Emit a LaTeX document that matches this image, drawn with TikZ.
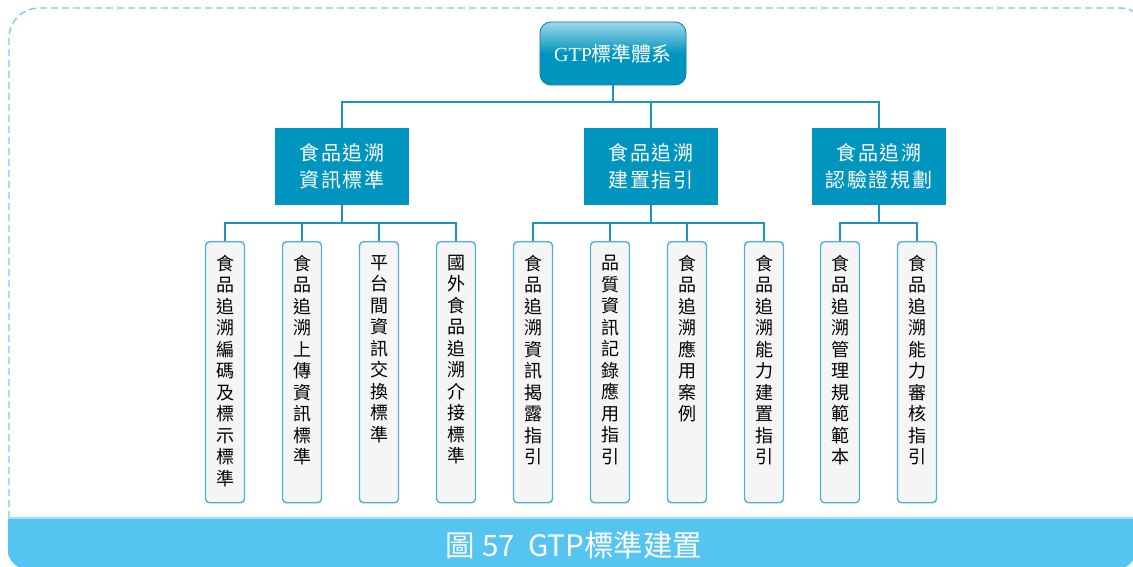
\documentclass[tikz,border=0pt]{standalone}
\usepackage{fontspec}
\setmainfont{Noto Sans CJK TC}
\newfontfamily\latserif{Liberation Serif}
\newfontfamily\boxfont[LetterSpace=8]{Noto Sans CJK TC}
\usetikzlibrary{positioning, calc}
\definecolor{frameBlue}{RGB}{125, 201, 234}
\definecolor{bandBlue}{RGB}{85, 196, 240}
\definecolor{boxBlue}{RGB}{0, 149, 191}
\definecolor{boxHi}{RGB}{160, 216, 234}
\definecolor{linkBlue}{RGB}{24, 150, 192}
\definecolor{leafLine}{RGB}{80, 175, 215}
\definecolor{leafFill}{RGB}{245, 245, 245}

\tikzset{
  rootbox/.style={rounded corners=11pt, top color=boxHi, bottom color=boxBlue,
    middle color=boxBlue, draw=boxBlue!85!black, line width=0.8pt,
    minimum width=146pt, minimum height=63pt, inner sep=0pt, text=white,
    font=\fontsize{20pt}{24pt}\selectfont},
  groupbox/.style={fill=boxBlue, minimum width=134pt, minimum height=77pt,
    inner sep=0pt, text=white, align=center,
    font=\boxfont\fontsize{20pt}{27pt}\selectfont},
  leafbox/.style={rounded corners=4pt, fill=leafFill, draw=leafLine, line width=1.4pt,
    minimum width=39pt, minimum height=261pt, inner sep=0pt, anchor=north,
    label={[leaftext]north:#1}},
  leaftext/.style={anchor=north, yshift=-14pt, align=center, inner sep=0pt,
    font=\fontsize{18pt}{21.5pt}\selectfont},
  link/.style={linkBlue, line width=2.8pt},
}

\begin{document}
\begin{tikzpicture}[x=1pt, y=-1pt]
        \useasboundingbox (0,0) rectangle (1133,567);

        % frame and caption band
        \begin{scope}
          \clip (0,0) rectangle (1133,567);
          \draw[frameBlue, line width=1.4pt, dash pattern=on 7pt off 4pt, rounded corners=30pt]
            (9,518) -- (9,8) -- (1150,8) -- (1150,518);
          \fill[bandBlue] (8,518) -- (1136,518) -- (1136,540) [rounded corners=19pt]
            -- (1136,569) -- (8,569) -- (8,540) [sharp corners] -- cycle;
          \draw[bandBlue!55!white, line width=1.5pt] (8,518) -- (1136,518);
        \end{scope}
        \node[text=white, font=\fontsize{29.5pt}{32pt}\selectfont] (caption) at (574,545)
          {圖 57\ \ GTP標準建置};

        % root
        \node[rootbox] (root) at (613,53.5) {{\latserif GTP}標準體系};

        % level 2
        \node[groupbox] (info)  at (342,166.5) {食品追溯\\資訊標準};
        \node[groupbox] (build) at (651,166.5) {食品追溯\\建置指引};
        \node[groupbox] (cert)  at (879,166.5) {食品追溯\\認驗證規劃};

        \coordinate (bus) at (613,102);
        \draw[link] (root.south) -- (bus);
        \draw[link] (bus) -| (info.north);
        \draw[link] (bus) -| (build.north);
        \draw[link] (bus) -| (cert.north);

        % leaves
        \node[leafbox={食\\品\\追\\溯\\編\\碼\\及\\標\\示\\標\\準}] (a1) at (225,241) {};
        \node[leafbox={食\\品\\追\\溯\\上\\傳\\資\\訊\\標\\準}] (a2) at (302,241) {};
        \node[leafbox={平\\台\\間\\資\\訊\\交\\換\\標\\準}] (a3) at (379,241) {};
        \node[leafbox={國\\外\\食\\品\\追\\溯\\介\\接\\標\\準}] (a4) at (456,241) {};
        \node[leafbox={食\\品\\追\\溯\\資\\訊\\揭\\露\\指\\引}] (b1) at (533,241) {};
        \node[leafbox={品\\質\\資\\訊\\記\\錄\\應\\用\\指\\引}] (b2) at (610,241) {};
        \node[leafbox={食\\品\\追\\溯\\應\\用\\案\\例}] (b3) at (687,241) {};
        \node[leafbox={食\\品\\追\\溯\\能\\力\\建\\置\\指\\引}] (b4) at (764,241) {};
        \node[leafbox={食\\品\\追\\溯\\管\\理\\規\\範\\範\\本}] (c1) at (840,241) {};
        \node[leafbox={食\\品\\追\\溯\\能\\力\\審\\核\\指\\引}] (c2) at (917,241) {};

        \coordinate (busA) at (342,223);
        \coordinate (busB) at (651,223);
        \coordinate (busC) at (879,223);
        \draw[link] (info.south) -- (busA);
        \draw[link] (build.south) -- (busB);
        \draw[link] (cert.south) -- (busC);
        \foreach \leaf in {a1,a2,a3,a4}
          \draw[link] (busA) -| (\leaf.north);
        \foreach \leaf in {b1,b2,b3,b4}
          \draw[link] (busB) -| (\leaf.north);
        \foreach \leaf in {c1,c2}
          \draw[link] (busC) -| (\leaf.north);
      \end{tikzpicture}
\end{document}
